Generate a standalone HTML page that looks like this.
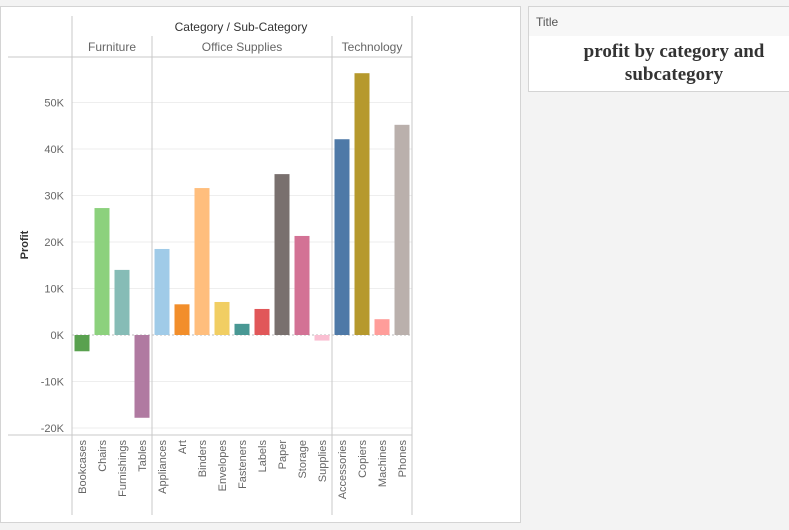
<!DOCTYPE html>
<html><head><meta charset="utf-8"><style>
body{margin:0;width:789px;height:530px;background:#f3f3f3;overflow:hidden;font-family:"Liberation Sans",sans-serif}
#chart{position:absolute;left:0;top:6px;width:521px;height:517px;background:#fff;border:1px solid #d4d4d4;box-sizing:border-box}
#tbox{position:absolute;left:528px;top:6px;width:262px;height:86px;background:#fff;border:1px solid #d4d4d4;box-sizing:border-box}
#thead{height:29px;background:#f7f7f7;font-size:12px;color:#555;padding:8px 0 0 7px;box-sizing:border-box}
#ttext{font-family:"Liberation Serif",serif;font-weight:bold;font-size:19px;color:#333;text-align:center;line-height:23px;padding-left:30px;padding-top:4px}
svg{position:absolute;left:0;top:0}
</style></head><body>
<div id="chart"></div>
<div id="tbox"><div id="thead">Title</div><div id="ttext">profit by category and<br>subcategory</div></div>
<svg id="svg" width="789" height="530"></svg>
<script>
const categories=["Furniture","Office Supplies","Technology"];
const subcats=["Bookcases","Chairs","Furnishings","Tables","Appliances","Art","Binders","Envelopes","Fasteners","Labels","Paper","Storage","Supplies","Accessories","Copiers","Machines","Phones"];
const subCatGroup=[0,0,0,0,1,1,1,1,1,1,1,1,1,2,2,2,2];
const profits=[-3500,27300,14000,-17800,18500,6600,31600,7100,2400,5600,34600,21300,-1200,42100,56300,3400,45200];
const colors=["#59a14f","#8cd17d","#86bcb6","#b07aa1","#a0cbe8","#f28e2b","#ffbe7d","#f1ce63","#499894","#e15759","#79706e","#d37295","#fabfd2","#4e79a7","#b6992d","#ff9d9a","#bab0ac"];
const ticks=[-20000,-10000,0,10000,20000,30000,40000,50000];
const tickLabels=["-20K","-10K","0K","10K","20K","30K","40K","50K"];
const svg=document.getElementById('svg');const NS='http://www.w3.org/2000/svg';
const y0=335,pxPer=46.5/10000;
function y(v){return y0-v*pxPer;}
const colW=20,left=72;
function xCol(i){return left+i*colW;}
function el(t,a,txt){const e=document.createElementNS(NS,t);for(const k in a)e.setAttribute(k,a[k]);if(txt!=null)e.textContent=txt;svg.appendChild(e);return e;}
ticks.forEach((t,i)=>{
 const g=el('line',{x1:72,x2:412,y1:y(t),y2:y(t),stroke:t===0?'#bbb':'#eee','stroke-dasharray':t===0?'2,2':'none'});
 
 
 const l=el('text',{x:64,y:y(t)+4,'text-anchor':'end','font-size':11,fill:'#666'},tickLabels[i]);
 
 
});
profits.forEach((v,i)=>{
 const x=xCol(i)+2.5;const top=Math.min(y(v),y0),h=Math.abs(y(v)-y0);
 const b=el('rect',{x:x,y:top,width:15,height:h,fill:colors[i]});
 
 
 const cx=xCol(i)+colW/2+4;
 const t=el('text',{x:cx,y:440,'font-size':11,fill:'#666','text-anchor':'end',transform:`rotate(-90 ${cx} 440)`},subcats[i]);
 
 
});
el('line',{x1:8,x2:412,y1:57,y2:57,stroke:'#c8c8c8'});
el('line',{x1:8,x2:412,y1:435,y2:435,stroke:'#c8c8c8'});
[72,412].forEach(x=>el('line',{x1:x,x2:x,y1:16,y2:515,stroke:'#c8c8c8'}));
[152,332].forEach(x=>el('line',{x1:x,x2:x,y1:36,y2:515,stroke:'#c8c8c8'}));
const ht=el('text',{x:241,y:31,'text-anchor':'middle','font-size':12,fill:'#333'},'Category / Sub-Category');


const starts=[0,4,13],ends=[4,13,17];
categories.forEach((c,i)=>{
 const cx=(xCol(starts[i])+xCol(ends[i]))/2;
 const t=el('text',{x:cx,y:51,'text-anchor':'middle','font-size':12,fill:'#666'},c);
 
 
});
const yt=el('text',{x:28,y:245,'text-anchor':'middle','font-size':11,'font-weight':'bold',fill:'#333',transform:'rotate(-90 28 245)'},'Profit');


</script>
</body></html>
